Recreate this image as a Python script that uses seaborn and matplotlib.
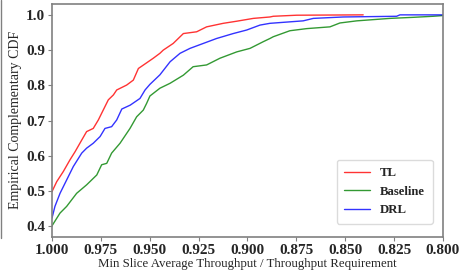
import pandas as pd
import matplotlib.pyplot as plt
import seaborn as sns
from matplotlib.lines import Line2D

# =====================================================
# DATA
# =====================================================

tl_x = [1.000, 0.9976, 0.9942, 0.9908, 0.9882, 0.9848, 0.9823, 0.9789, 0.9763,
        0.9738, 0.9712, 0.9686, 0.9669, 0.9618, 0.9584, 0.9558, 0.9516, 0.9482,
        0.9448, 0.9431, 0.9380, 0.9328, 0.9260, 0.9209, 0.9124, 0.9055, 0.8970,
        0.8885, 0.8868, 0.8748, 0.8408]
tl_y = [0.499, 0.527, 0.556, 0.589, 0.612, 0.645, 0.669, 0.678, 0.702,
        0.730, 0.759, 0.773, 0.787, 0.801, 0.815, 0.848, 0.864, 0.877,
        0.891, 0.900, 0.919, 0.947, 0.952, 0.966, 0.976, 0.982, 0.990,
        0.994, 0.996, 0.999, 1.000]

base_x = [1.000, 0.9959, 0.9925, 0.9874, 0.9823, 0.9771, 0.9746, 0.9720, 0.9695,
          0.9652, 0.9601, 0.9567, 0.9533, 0.9516, 0.9499, 0.9448, 0.9396, 0.9328,
          0.9278, 0.9209, 0.9141, 0.9055, 0.8987, 0.8919, 0.8885, 0.8868, 0.8783,
          0.8697, 0.8578, 0.8527, 0.8441, 0.8271, 0.8152, 0.8050, 0.8000]
base_y = [0.402, 0.438, 0.457, 0.494, 0.518, 0.546, 0.575, 0.579, 0.608,
          0.636, 0.678, 0.711, 0.730, 0.749, 0.770, 0.792, 0.806, 0.829,
          0.853, 0.858, 0.877, 0.895, 0.905, 0.924, 0.933, 0.938, 0.955,
          0.961, 0.966, 0.977, 0.983, 0.990, 0.993, 0.996, 0.998]

drl_x = [1.000, 0.9985, 0.9959, 0.9925, 0.9891, 0.9848, 0.9823, 0.9789, 0.9754,
         0.9729, 0.9695, 0.9669, 0.9643, 0.9600, 0.9550, 0.9524, 0.9499, 0.9448,
         0.9396, 0.9345, 0.9294, 0.9226, 0.9158, 0.9073, 0.9004, 0.8936, 0.8885,
         0.8715, 0.8663, 0.8510, 0.8237, 0.8220, 0.8000]
drl_y = [0.424, 0.457, 0.494, 0.532, 0.570, 0.608, 0.622, 0.636, 0.655,
         0.678, 0.683, 0.702, 0.733, 0.744, 0.763, 0.787, 0.803, 0.830,
         0.867, 0.891, 0.905, 0.919, 0.933, 0.947, 0.957, 0.971, 0.976,
         0.983, 0.990, 0.994, 0.996, 1.000, 1.000]

series = ["TL", "Baseline", "DRL"]
colors = ["red", "green", "blue"]

x_ticks = [1.000, 0.975, 0.950, 0.925, 0.900, 0.875, 0.850, 0.825, 0.800]
y_ticks = [0.4, 0.5, 0.6, 0.7, 0.8, 0.9, 1.0]

# =====================================================
# PLOT
# =====================================================

sns.set_style("white")
plt.rcParams["font.family"] = ["Liberation Serif", "DejaVu Serif"]

fig = plt.figure(figsize=(4.75, 2.75), dpi=100)
ax = fig.add_axes([0.1095, 0.138, 0.823, 0.849])

for name, xs, ys, c in zip(series, [tl_x, base_x, drl_x], [tl_y, base_y, drl_y], colors):
    df = pd.DataFrame({"x": xs, "y": ys})
    sns.lineplot(data=df, x="x", y="y", ax=ax, sort=False, estimator=None,
                 color=c, linewidth=1.0, alpha=0.8, label=name)

ax.set_xlim(1.0, 0.8)
ax.set_ylim(0.37, 1.032)
ax.set_xticks(x_ticks)
ax.set_xticklabels([f"{t:.3f}" for t in x_ticks])
ax.set_yticks(y_ticks)
ax.set_yticklabels([f"{t:.1f}" for t in y_ticks])

for lab in ax.get_xticklabels() + ax.get_yticklabels():
    lab.set_fontweight("bold")
    lab.set_fontsize(11)

ax.tick_params(axis="both", bottom=True, left=True, length=3, width=0.8,
               color="gray", pad=2)

for sp in ax.spines.values():
    sp.set_color("gray")
    sp.set_linewidth(1.2)

ax.set_xlabel("Min Slice Average Throughput / Throughput Requirement", fontsize=9.3, labelpad=1)
ax.set_ylabel("Empirical Complementary CDF", fontsize=10, labelpad=3)

leg = ax.legend(loc="lower right", prop={"weight": "bold", "size": 9.2},
                frameon=True, handlelength=2.0, borderpad=0.6,
                bbox_to_anchor=(0.99, 0.03))
leg.get_frame().set_edgecolor("lightgray")

fig.add_artist(Line2D([0.002, 0.002], [0.135, 1.0], color="gray", linewidth=1.0))

plt.savefig("out.png", dpi=100)
plt.close()
